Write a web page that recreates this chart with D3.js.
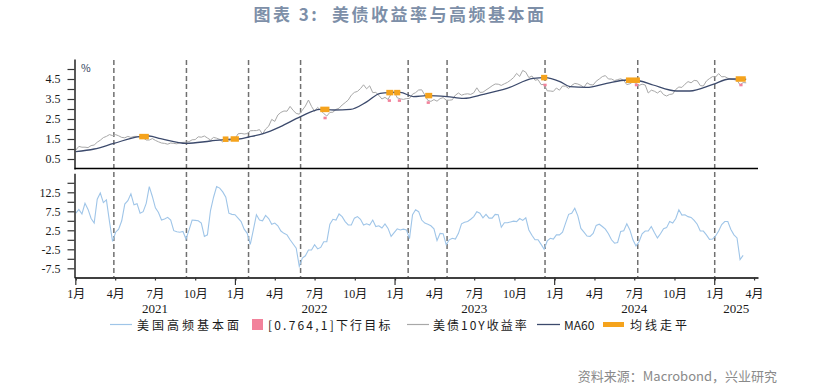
<!DOCTYPE html>
<html>
<head>
<meta charset="utf-8">
<script src="https://cdn.jsdelivr.net/npm/d3@7"></script>
<style>
  body { margin: 0; background: #fff; }
  svg { display: block; }
</style>
</head>
<body>
<svg id="chart" width="820" height="388"></svg>
<script>
// weekly series, first point 2021-01-01, one value per week
var seriesStart = new Date(2021, 0, 1);

// 美债10Y收益率 (%)
var yieldVals = [
  // 2021
  0.95, 1.13, 1.09, 1.09, 1.07, 1.17, 1.20, 1.34, 1.44, 1.57, 1.63, 1.72, 1.67, 1.72, 1.66, 1.58, 1.56, 1.63,
  1.58, 1.63, 1.63, 1.59, 1.56, 1.45, 1.45, 1.52, 1.43, 1.36, 1.30, 1.28, 1.24, 1.30, 1.28, 1.26, 1.31, 1.33,
  1.34, 1.37, 1.46, 1.47, 1.61, 1.59, 1.65, 1.55, 1.45, 1.58, 1.54, 1.48, 1.35, 1.49, 1.40, 1.49, 1.51,
  // 2022
  1.76, 1.78, 1.75, 1.77, 1.91, 1.92, 1.92, 1.97, 1.74, 2.00, 2.14, 2.48, 2.38, 2.70, 2.83, 2.90, 2.89, 3.13,
  2.93, 2.78, 2.74, 2.94, 3.15, 3.45, 3.13, 2.88, 3.08, 2.93, 2.77, 2.65, 2.83, 2.84, 2.98, 3.04, 3.20, 3.32,
  3.45, 3.69, 3.83, 3.88, 4.02, 4.21, 4.01, 4.16, 3.82, 3.83, 3.68, 3.50, 3.58, 3.48, 3.75, 3.88,
  // 2023
  3.56, 3.51, 3.48, 3.52, 3.53, 3.74, 3.82, 3.95, 3.96, 3.70, 3.43, 3.38, 3.47, 3.39, 3.52, 3.57, 3.44, 3.44,
  3.46, 3.69, 3.80, 3.69, 3.74, 3.76, 3.73, 3.81, 4.06, 3.83, 3.84, 3.95, 4.05, 4.16, 4.25, 4.24, 4.18, 4.26,
  4.33, 4.44, 4.57, 4.78, 4.63, 4.93, 4.84, 4.57, 4.65, 4.44, 4.47, 4.22, 4.23, 3.91, 3.90, 3.88,
  // 2024
  4.05, 3.94, 4.15, 4.14, 4.03, 4.18, 4.28, 4.25, 4.18, 4.08, 4.31, 4.22, 4.20, 4.39, 4.50, 4.62, 4.67, 4.50,
  4.50, 4.42, 4.47, 4.51, 4.43, 4.22, 4.26, 4.36, 4.28, 4.18, 4.24, 4.20, 3.80, 3.94, 3.89, 3.80, 3.91, 3.72,
  3.65, 3.73, 3.75, 3.98, 4.10, 4.08, 4.24, 4.37, 4.31, 4.43, 4.41, 4.17, 4.15, 4.40, 4.52, 4.62,
  // 2025
  4.60, 4.77, 4.61, 4.62, 4.54, 4.49, 4.47, 4.43, 4.21, 4.32, 4.31
];

// 美国高频基本面
var fundVals = [
  7.0, 8.0, 6.8, 9.6, 8.0, 5.6, 4.4, 10.7, 12.3, 9.8,
  10.5, 4.8, -0.4, 2.0, 2.8, 5.0, 9.4, 10.3, 12.1, 9.2,
  9.5, 7.0, 7.4, 9.6, 14.0, 11.4, 8.4, 7.2, 5.2, 5.5,
  5.9, 5.2, 2.4, 2.1, 2.0, 2.2, 0.2, 2.6, 5.2, 5.1,
  5.0, 4.4, 0.9, 1.3, 7.7, 11.2, 14.0, 13.6, 12.6, 11.2,
  7.0, 6.7, 6.6, 5.7, 4.8, 2.8, 1.7, -1.2, 2.6, 6.6,
  5.2, 5.0, 6.4, 5.6, 4.1, 4.4, 3.7, 2.3, 1.7, 1.3,
  0.0, -1.1, -2.2, -7.0, -4.8, -4.2, -2.7, -2.7, -1.3, -2.4,
  -2.0, -0.5, -0.5, 4.1, 5.4, 5.2, 6.8, 6.1, 4.8, 3.9,
  3.9, 5.7, 6.1, 5.4, 3.9, 4.2, 3.9, 5.2, 3.5, 3.7,
  3.1, 4.2, 3.0, 0.9, 1.9, 2.9, 2.6, 2.8, 2.6, 0.3,
  6.6, 7.9, 7.4, 5.2, 4.4, 4.1, 3.7, 2.9, -0.2, 1.7,
  1.6, -1.3, 0.0, 0.4, 0.2, 1.7, 4.2, 4.6, 4.8, 5.4,
  6.1, 7.4, 7.0, 5.8, 6.7, 5.7, 5.7, 6.7, 6.6, 3.3,
  4.5, 4.5, 4.7, 4.9, 4.8, 5.6, 5.1, 5.8, 2.6, 1.2,
  0.0, 0.0, -1.2, -2.5, -0.3, 0.4, 0.2, 1.3, 1.3, 2.0,
  4.4, 6.7, 7.0, 8.3, 6.3, 3.0, 2.0, 1.0, 0.9, 1.7,
  3.8, 4.1, 3.5, 2.8, 1.6, 0.0, -0.9, -0.7, 2.2, 2.4,
  4.2, 2.6, 0.0, -1.6, -0.5, 1.6, 2.3, 2.3, 3.5, 1.9,
  0.5, 1.6, 2.9, 3.2, 4.8, 4.4, 5.6, 7.9, 6.5, 6.6,
  6.1, 5.9, 5.1, 4.1, 2.3, 2.3, 1.3, 0.1, 0.2, 1.0,
  2.3, 4.0, 4.8, 4.8, 2.7, 1.3, 0.5, -5.2, -4.1
];

// MA60
var maDates = ['2021-01-01', '2021-02-12', '2021-03-29', '2021-05-26', '2021-06-17', '2021-07-14', '2021-09-11',
  '2021-11-05', '2021-12-13', '2022-01-09', '2022-02-01', '2022-03-07', '2022-04-14', '2022-05-30', '2022-07-14',
  '2022-08-14', '2022-09-21', '2022-10-29', '2022-11-28', '2022-12-21', '2023-01-13', '2023-02-12', '2023-03-15',
  '2023-04-30', '2023-06-07', '2023-07-22', '2023-09-14', '2023-11-13', '2023-12-10', '2024-01-13', '2024-02-05',
  '2024-03-14', '2024-04-29', '2024-06-14', '2024-07-14', '2024-08-13', '2024-10-06', '2024-11-05', '2024-12-28',
  '2025-02-04', '2025-03-07', '2025-03-14'];
var maVals = [0.87, 1.00, 1.28, 1.62, 1.65, 1.52, 1.28,
  1.40, 1.48, 1.50, 1.60, 1.78, 2.12, 2.62, 2.98,
  2.95, 2.98, 3.37, 3.78, 3.82, 3.83, 3.62, 3.67,
  3.62, 3.53, 3.73, 4.03, 4.53, 4.57, 4.37, 4.12,
  4.08, 4.28, 4.45, 4.40, 4.20, 3.90, 3.90, 4.23,
  4.50, 4.50, 4.48];

// 均线走平 periods
var flatStart = ['2021-05-26', '2021-12-03', '2021-12-21', '2022-07-14', '2022-12-12', '2022-12-30', '2023-03-11', '2023-12-01', '2024-06-12', '2025-02-18'];
var flatEnd   = ['2021-06-17', '2021-12-16', '2022-01-09', '2022-08-04', '2022-12-28', '2023-01-13', '2023-03-27', '2023-12-15', '2024-07-14', '2025-03-13'];
var flatLevel = [1.62, 1.49, 1.50, 2.98, 3.82, 3.82, 3.67, 4.57, 4.44, 4.50];

// [0.764,1]下行目标 marks
var targetDates = ['2022-07-25', '2022-12-19', '2023-01-11', '2023-03-18', '2023-12-10', '2024-07-06', '2025-03-02'];
var targetVals  = [2.55, 3.42, 3.42, 3.32, 4.20, 4.20, 4.20];

// dashed vertical markers
var markDates = ['2021-03-29', '2021-09-11', '2022-01-31', '2022-05-30', '2023-01-31', '2023-04-30', '2023-12-10', '2024-07-09', '2025-01-01'];

// axis ticks / labels
var topTicks = [0.5, 1.0, 1.5, 2.0, 2.5, 3.0, 3.5, 4.0, 4.5, 5.0];
var botTicks = [-7.5, -5, -2.5, 0, 2.5, 5, 7.5, 10, 12.5, 15];
var years = [2021, 2022, 2023, 2024, 2025];
var yearLabelDates = ['2021-07-01', '2022-07-01', '2023-07-01', '2024-07-01', '2025-02-19'];

var parse = d3.timeParse('%Y-%m-%d');
var serif = '"Liberation Serif", "Noto Sans CJK SC", serif';
var cjk = '"Noto Sans CJK SC", sans-serif';

var svg = d3.select('#chart');
svg.append('rect').attr('width', 820).attr('height', 388).attr('fill', '#fff');

var x = d3.scaleTime()
  .domain([new Date(2020, 11, 29), new Date(2025, 3, 10)])
  .range([74.5, 758]);
var yTop = d3.scaleLinear().domain([0, 5.5]).range([169, 59]);
var yBot = d3.scaleLinear().domain([-10, 17.5]).range([277.8, 173.3]);

var yieldData = yieldVals.map(function (v, i) { return { date: d3.timeDay.offset(seriesStart, 7 * i), value: v }; });
var fundData = fundVals.map(function (v, i) { return { date: d3.timeDay.offset(seriesStart, 7 * i), value: v }; });
var maData = maDates.map(function (d, i) { return { date: parse(d), value: maVals[i] }; });

// title
svg.append('text')
  .attr('x', 400).attr('y', 21)
  .attr('text-anchor', 'middle')
  .attr('font-family', cjk).attr('font-weight', 'bold')
  .attr('font-size', 17).attr('letter-spacing', 2.5)
  .attr('fill', '#7d8fa8')
  .text('图表 3:\u00a0\u00a0美债收益率与高频基本面');

// dashed vertical lines through both panels
svg.append('g').selectAll('line')
  .data(markDates)
  .enter().append('line')
  .attr('x1', function (d) { return x(parse(d)); })
  .attr('x2', function (d) { return x(parse(d)); })
  .attr('y1', 60).attr('y2', 277)
  .attr('stroke', '#707070').attr('stroke-width', 1.5)
  .attr('stroke-dasharray', '5,3');

// top panel lines
var lineTop = d3.line().x(function (d) { return x(d.date); }).y(function (d) { return yTop(d.value); });
svg.append('path').datum(yieldData)
  .attr('d', lineTop)
  .attr('fill', 'none').attr('stroke', '#a8a8a8').attr('stroke-width', 1);
svg.append('path').datum(maData)
  .attr('d', lineTop.curve(d3.curveMonotoneX))
  .attr('fill', 'none').attr('stroke', '#3c4a6c').attr('stroke-width', 1.3);

svg.append('g').selectAll('rect')
  .data(targetDates)
  .enter().append('rect')
  .attr('x', function (d) { return x(parse(d)) - 1.6; })
  .attr('y', function (d, i) { return yTop(targetVals[i]) - 1.3; })
  .attr('width', 3.2).attr('height', 2.6)
  .attr('fill', '#f2829b');

svg.append('g').selectAll('rect')
  .data(flatStart)
  .enter().append('rect')
  .attr('x', function (d) { return x(parse(d)); })
  .attr('y', function (d, i) { return yTop(flatLevel[i]) - 2.75; })
  .attr('width', function (d, i) { return x(parse(flatEnd[i])) - x(parse(d)); })
  .attr('height', 5.5)
  .attr('fill', '#f5a31c');

// bottom panel line
var lineBot = d3.line().x(function (d) { return x(d.date); }).y(function (d) { return yBot(d.value); });
svg.append('path').datum(fundData)
  .attr('d', lineBot)
  .attr('fill', 'none').attr('stroke', '#9fc5e8').attr('stroke-width', 1.1);

// y axes
function styleAxis(g) {
  g.select('.domain').attr('stroke', '#000').attr('stroke-width', 1.3);
  g.selectAll('.tick line').attr('stroke', '#333').attr('stroke-width', 1.2);
  g.selectAll('.tick text').attr('font-family', serif).attr('font-size', 12).attr('fill', '#1a1a1a');
}

svg.append('g')
  .attr('transform', 'translate(74.5,0)')
  .call(d3.axisLeft(yTop).tickValues(topTicks).tickSize(7).tickSizeOuter(0).tickPadding(7)
    .tickFormat(function (d) { return (d * 2) % 2 === 1 ? d.toFixed(1) : ''; }))
  .call(styleAxis);

svg.append('g')
  .attr('transform', 'translate(74.5,0)')
  .call(d3.axisLeft(yBot).tickValues(botTicks).tickSize(7).tickSizeOuter(0).tickPadding(7)
    .tickFormat(function (d) { return Math.abs((d - 2.5) % 5) === 0 ? d.toFixed(1) : ''; }))
  .call(styleAxis);

svg.append('text')
  .attr('x', 81).attr('y', 72)
  .attr('font-family', cjk).attr('font-size', 10.5).attr('fill', '#2b3a55')
  .text('%');

// x axes
svg.append('line')
  .attr('x1', 74.5).attr('x2', 758).attr('y1', 168.5).attr('y2', 168.5)
  .attr('stroke', '#000').attr('stroke-width', 1.3);

var quarters = d3.timeMonth.every(3).range(new Date(2021, 0, 1), new Date(2025, 3, 2));
svg.append('g')
  .attr('transform', 'translate(0,277.5)')
  .call(d3.axisBottom(x).tickValues(quarters).tickSize(3).tickSizeOuter(0).tickPadding(9)
    .tickFormat(function (d) { return (d.getMonth() + 1) + '月'; }))
  .call(styleAxis);

svg.append('g').selectAll('line')
  .data(years)
  .enter().append('line')
  .attr('x1', function (d) { return x(new Date(d, 0, 1)); })
  .attr('x2', function (d) { return x(new Date(d, 0, 1)); })
  .attr('y1', 277.5).attr('y2', 285)
  .attr('stroke', '#333').attr('stroke-width', 1.2);

svg.append('g').selectAll('text')
  .data(years)
  .enter().append('text')
  .attr('x', function (d, i) { return x(parse(yearLabelDates[i])); })
  .attr('y', 313)
  .attr('text-anchor', 'middle')
  .attr('font-family', serif).attr('font-size', 13).attr('fill', '#1a1a1a')
  .text(function (d) { return d; });

// legend
var legend = svg.append('g').attr('font-family', cjk).attr('font-size', 12).attr('fill', '#1a1a1a');
var ly = 324.5;
legend.append('line').attr('x1', 110).attr('x2', 132).attr('y1', ly).attr('y2', ly)
  .attr('stroke', '#9fc5e8').attr('stroke-width', 1.2);
legend.append('text').attr('x', 137).attr('y', ly).attr('dominant-baseline', 'central')
  .attr('letter-spacing', 3).text('美国高频基本面');
legend.append('rect').attr('x', 252).attr('y', ly - 5.5).attr('width', 11).attr('height', 11).attr('fill', '#f2829b');
legend.append('text').attr('x', 268).attr('y', ly).attr('dominant-baseline', 'central')
  .attr('letter-spacing', 2.2).text('[0.764,1]下行目标');
legend.append('line').attr('x1', 407).attr('x2', 429).attr('y1', ly).attr('y2', ly)
  .attr('stroke', '#a8a8a8').attr('stroke-width', 1.2);
legend.append('text').attr('x', 433).attr('y', ly).attr('dominant-baseline', 'central')
  .attr('letter-spacing', 2).text('美债10Y收益率');
legend.append('line').attr('x1', 537).attr('x2', 560).attr('y1', ly).attr('y2', ly)
  .attr('stroke', '#3c4a6c').attr('stroke-width', 1.3);
legend.append('text').attr('x', 564).attr('y', ly).attr('dominant-baseline', 'central')
  .text('MA60');
legend.append('rect').attr('x', 603).attr('y', ly - 2.5).attr('width', 21).attr('height', 5).attr('fill', '#f5a31c');
legend.append('text').attr('x', 630).attr('y', ly).attr('dominant-baseline', 'central')
  .attr('letter-spacing', 3).text('均线走平');

// source
svg.append('text')
  .attr('x', 777).attr('y', 381)
  .attr('text-anchor', 'end')
  .attr('font-family', cjk).attr('font-size', 13).attr('fill', '#8a8a8a')
  .text('资料来源：Macrobond，兴业研究');
</script>
</body>
</html>
